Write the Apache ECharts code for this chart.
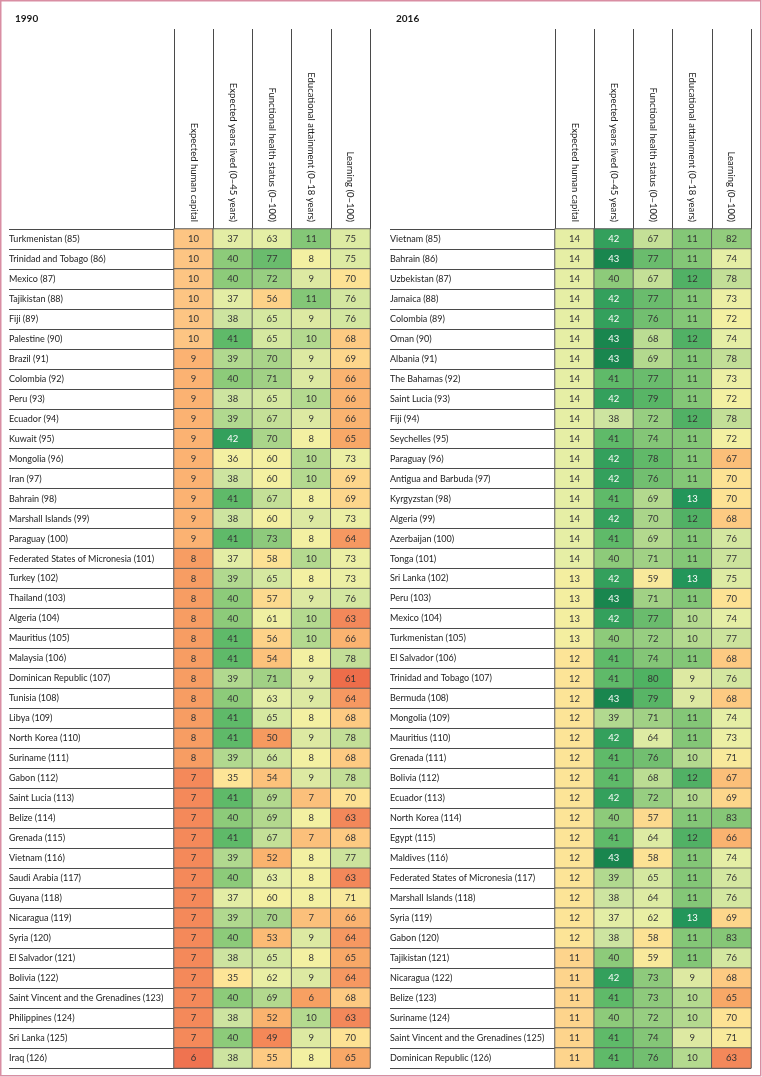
<!DOCTYPE html>
<html><head><meta charset="utf-8">
<script src="https://cdn.jsdelivr.net/npm/echarts@6/dist/echarts.min.js"></script>
<style>html,body{margin:0;padding:0;background:#fff}#c{width:762px;height:1077px}</style>
</head><body><div id="c"></div>
<script>
// ---------- DATA ----------
const panelTitles = ['1990', '2016'];
const measures = ['Expected human capital', 'Expected years lived (0–45 years)', 'Functional health status (0–100)', 'Educational attainment (0–18 years)', 'Learning (0–100)'];

const countries1990 = ['Turkmenistan (85)','Trinidad and Tobago (86)','Mexico (87)','Tajikistan (88)','Fiji (89)','Palestine (90)','Brazil (91)','Colombia (92)','Peru (93)','Ecuador (94)','Kuwait (95)','Mongolia (96)','Iran (97)','Bahrain (98)','Marshall Islands (99)','Paraguay (100)','Federated States of Micronesia (101)','Turkey (102)','Thailand (103)','Algeria (104)','Mauritius (105)','Malaysia (106)','Dominican Republic (107)','Tunisia (108)','Libya (109)','North Korea (110)','Suriname (111)','Gabon (112)','Saint Lucia (113)','Belize (114)','Grenada (115)','Vietnam (116)','Saudi Arabia (117)','Guyana (118)','Nicaragua (119)','Syria (120)','El Salvador (121)','Bolivia (122)','Saint Vincent and the Grenadines (123)','Philippines (124)','Sri Lanka (125)','Iraq (126)'];
const humanCapital1990 = [10,10,10,10,10,10,9,9,9,9,9,9,9,9,9,9,8,8,8,8,8,8,8,8,8,8,8,7,7,7,7,7,7,7,7,7,7,7,7,7,7,6];
const yearsLived1990   = [37,40,40,37,38,41,39,40,38,39,42,36,38,41,38,41,37,39,40,40,41,41,39,40,41,41,39,35,41,40,41,39,40,37,39,40,38,35,40,38,40,38];
const health1990       = [63,77,72,56,65,65,70,71,65,67,70,60,60,67,60,73,58,65,57,61,56,54,71,63,65,50,66,54,69,69,67,52,63,60,70,53,65,62,69,52,49,55];
const education1990    = [11,8,9,11,9,10,9,9,10,9,8,10,10,8,9,8,10,8,9,10,10,8,9,9,8,9,8,9,7,8,7,8,8,8,7,9,8,9,6,10,9,8];
const learning1990     = [75,75,70,76,76,68,69,66,66,66,65,73,69,69,73,64,73,73,76,63,66,78,61,64,68,78,68,78,70,63,68,77,63,71,66,64,65,64,68,63,70,65];

const countries2016 = ['Vietnam (85)','Bahrain (86)','Uzbekistan (87)','Jamaica (88)','Colombia (89)','Oman (90)','Albania (91)','The Bahamas (92)','Saint Lucia (93)','Fiji (94)','Seychelles (95)','Paraguay (96)','Antigua and Barbuda (97)','Kyrgyzstan (98)','Algeria (99)','Azerbaijan (100)','Tonga (101)','Sri Lanka (102)','Peru (103)','Mexico (104)','Turkmenistan (105)','El Salvador (106)','Trinidad and Tobago (107)','Bermuda (108)','Mongolia (109)','Mauritius (110)','Grenada (111)','Bolivia (112)','Ecuador (113)','North Korea (114)','Egypt (115)','Maldives (116)','Federated States of Micronesia (117)','Marshall Islands (118)','Syria (119)','Gabon (120)','Tajikistan (121)','Nicaragua (122)','Belize (123)','Suriname (124)','Saint Vincent and the Grenadines (125)','Dominican Republic (126)'];
const humanCapital2016 = [14,14,14,14,14,14,14,14,14,14,14,14,14,14,14,14,14,13,13,13,13,12,12,12,12,12,12,12,12,12,12,12,12,12,12,12,11,11,11,11,11,11];
const yearsLived2016   = [42,43,40,42,42,43,43,41,42,38,41,42,42,41,42,41,40,42,43,42,40,41,41,43,39,42,41,41,42,40,41,43,39,38,37,38,40,42,41,40,41,41];
const health2016       = [67,77,67,77,76,68,69,77,79,72,74,78,76,69,70,69,71,59,71,77,72,74,80,79,71,64,76,68,72,57,64,58,65,64,62,58,59,73,73,72,74,76];
const education2016    = [11,11,12,11,11,12,11,11,11,12,11,11,11,13,12,11,11,13,11,10,10,11,9,9,11,11,10,12,10,11,12,11,11,11,13,11,11,9,10,10,9,10];
const learning2016     = [82,74,78,73,72,74,78,73,72,78,72,67,70,70,68,76,77,75,70,74,77,68,76,68,74,73,71,67,69,83,66,74,76,76,69,83,76,68,65,70,71,63];

// ---------- STYLE ----------
const FONT = 'Lato, "Noto Sans", sans-serif';
const TXT = '#222222';
const colorAnchors = [
  [[6,'#ef7350'],[7,'#f4895a'],[8,'#f79d63'],[9,'#fbb272'],[10,'#fdc583'],[11,'#fdd48c'],[12,'#fce497'],[13,'#f4eea0'],[14,'#e6eea5']],
  [[35,'#fde597'],[36,'#f3f0a2'],[37,'#e3eda5'],[38,'#cde4a0'],[39,'#b1d98f'],[40,'#8dcb7a'],[41,'#5fba69'],[42,'#33a05c'],[43,'#19864e']],
  [[49,'#f48858'],[50,'#f69a5f'],[52,'#fab36e'],[55,'#fdca82'],[58,'#fce294'],[60,'#f4f0a1'],[63,'#e4eea5'],[65,'#d5e8a0'],[70,'#aad58a'],[74,'#84c677'],[80,'#4fb262']],
  [[6,'#f7a062'],[7,'#fbc07b'],[8,'#f3f0a2'],[9,'#dde9a2'],[10,'#b4da8f'],[11,'#84c777'],[12,'#51b165'],[13,'#23965a']],
  [[61,'#ee6d4a'],[63,'#f3885a'],[65,'#f8a867'],[68,'#fdca82'],[70,'#fde294'],[72,'#f3f0a2'],[74,'#e5eea5'],[76,'#d4e7a0'],[78,'#c3df97'],[83,'#86c777']]
];
function hex2rgb(h){return [parseInt(h.substr(1,2),16),parseInt(h.substr(3,2),16),parseInt(h.substr(5,2),16)];}
function rgb2hex(c){return '#'+c.map(x=>Math.round(x).toString(16).padStart(2,'0')).join('');}
function colorFor(col, v){
  const a = colorAnchors[col];
  if (v <= a[0][0]) return a[0][1];
  if (v >= a[a.length-1][0]) return a[a.length-1][1];
  for (let i=0;i<a.length-1;i++){
    if (v>=a[i][0] && v<=a[i+1][0]){
      const t=(v-a[i][0])/(a[i+1][0]-a[i][0]);
      const c0=hex2rgb(a[i][1]), c1=hex2rgb(a[i+1][1]);
      return rgb2hex(c0.map((x,k)=>x+(c1[k]-x)*t));
    }
  }
}
function textColor(col, v){
  const c = hex2rgb(colorFor(col, v));
  const b = (0.299*c[0]+0.587*c[1]+0.114*c[2])/255;
  return b < 0.5 ? '#ffffff' : '#333333';
}

const panels = [
  {countries: countries1990, cols: [humanCapital1990, yearsLived1990, health1990, education1990, learning1990], labelLeft: 9, cellLeft: 174, titleLeft: 10},
  {countries: countries2016, cols: [humanCapital2016, yearsLived2016, health2016, education2016, learning2016], labelLeft: 390, cellLeft: 555, titleLeft: 391}
];

const TOP = 229, ROWS_H = 839, CELL_W = 196, HEAD_TOP = 29;
const LINE = '#4a4a4a';

const grid = [], xAxis = [], yAxis = [], series = [], title = [];
panels.forEach((p, pi) => {
  grid[pi] = {left: p.cellLeft, top: TOP, width: CELL_W, height: ROWS_H};
  grid[2+pi] = {left: p.cellLeft, top: HEAD_TOP, width: CELL_W, height: TOP - HEAD_TOP};
  grid[4+pi] = {left: p.labelLeft, top: TOP, width: p.cellLeft + CELL_W - p.labelLeft, height: ROWS_H};

  xAxis[pi] = {gridIndex: pi, type: 'category', data: measures, position: 'top',
    axisLine: {show: false}, axisTick: {show: false}, splitLine: {show: false},
    axisLabel: {rotate: 90, margin: 7, fontSize: 9.5, color: TXT, fontFamily: FONT, interval: 0}};
  yAxis[pi] = {gridIndex: pi, type: 'category', data: p.countries, inverse: true,
    axisLine: {show: false}, axisTick: {show: false}, splitLine: {show: false},
    axisLabel: {align: 'left', margin: p.cellLeft - p.labelLeft, fontSize: 9, color: TXT, fontFamily: FONT, interval: 0}};

  xAxis[2+pi] = {gridIndex: 2+pi, type: 'category', data: measures,
    axisLine: {show: false}, axisTick: {show: false}, axisLabel: {show: false},
    splitLine: {show: true, interval: 0, lineStyle: {color: LINE, width: 1}}};
  yAxis[2+pi] = {gridIndex: 2+pi, type: 'value', show: false};

  xAxis[4+pi] = {gridIndex: 4+pi, type: 'value', show: false};
  yAxis[4+pi] = {gridIndex: 4+pi, type: 'category', data: p.countries, inverse: true,
    axisLine: {show: false}, axisTick: {show: false}, axisLabel: {show: false},
    splitLine: {show: true, interval: 0, lineStyle: {color: LINE, width: 1}}};

  title.push({text: panelTitles[pi], left: p.titleLeft, top: 9,
    textStyle: {fontSize: 10, fontWeight: 'bold', color: '#1a1a1a', fontFamily: FONT}});

  p.cols.forEach((vals, ci) => {
    series.push({
      type: 'heatmap', xAxisIndex: pi, yAxisIndex: pi,
      data: vals.map((v, ri) => ({value: [ci, ri, v], label: {color: textColor(ci, v)}})),
      itemStyle: {borderColor: '#5c5c5c', borderWidth: 1},
      label: {show: true, fontSize: 9.5, fontFamily: FONT, formatter: (q) => q.value[2]},
      emphasis: {disabled: true}
    });
  });
});

const visualMap = measures.map((m, ci) => {
  const all = panels[0].cols[ci].concat(panels[1].cols[ci]);
  const lo = Math.min(...all), hi = Math.max(...all);
  const pieces = [];
  for (let v = lo; v <= hi; v++) pieces.push({value: v, color: colorFor(ci, v)});
  return {type: 'piecewise', show: false, dimension: 2, seriesIndex: [ci, 5 + ci], pieces};
});

const chart = echarts.init(document.getElementById('c'), null, {renderer: 'canvas'});
chart.setOption({
  animation: false,
  backgroundColor: '#ffffff',
  title, grid, xAxis, yAxis, series, visualMap,
  graphic: [{type: 'rect', shape: {x: 0.75, y: 0.75, width: 760, height: 1075},
    style: {fill: 'none', stroke: '#d98ea3', lineWidth: 1.5}, silent: true}]
});
</script></body></html>
